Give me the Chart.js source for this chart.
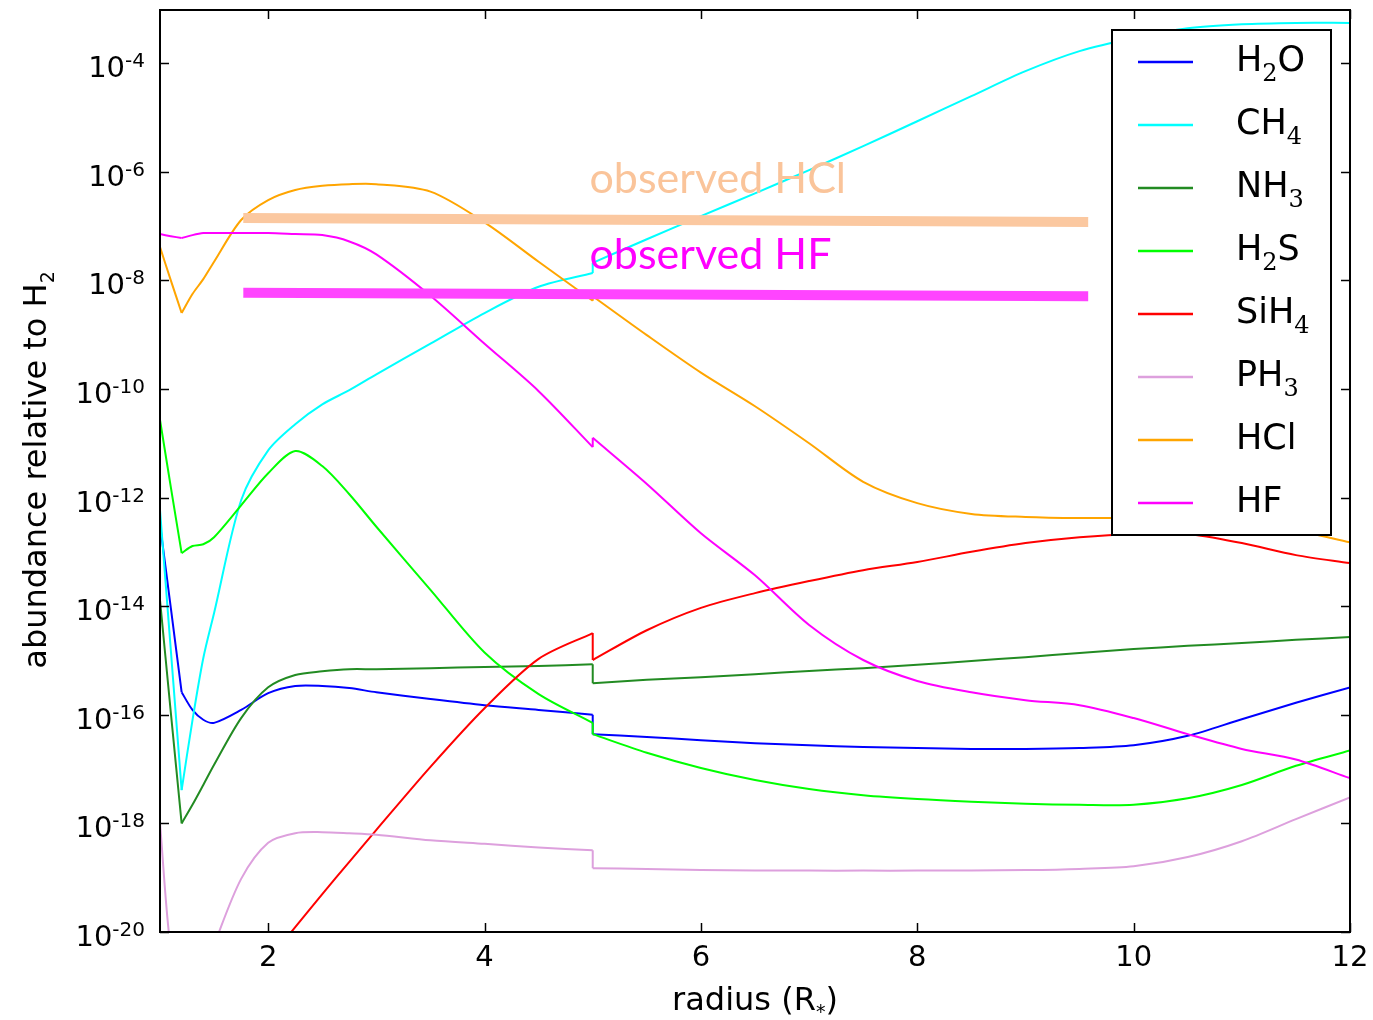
<!DOCTYPE html>
<html>
<head>
<meta charset="utf-8">
<script src="https://cdn.jsdelivr.net/npm/chart.js@4.4.1/dist/chart.umd.min.js"></script>
<style>
html,body{margin:0;padding:0;background:#fff;}
#wrap{width:1373px;height:1020px;position:relative;}
</style>
</head>
<body>
<div id="wrap"><canvas id="c" width="1373" height="1020"></canvas></div>
<script>
// ---------------- data ----------------
const radius = [1.0, 1.1, 1.2, 1.3, 1.4, 1.5, 1.75, 2.0, 2.25, 2.5, 2.75, 3.0, 3.5, 4.0, 4.5, 5.0, 5.0, 5.5, 6.0, 6.5, 7.0, 7.5, 8.0, 8.5, 9.0, 9.5, 10.0, 10.5, 11.0, 11.5, 12.0];

const h2o  = [3.2e-13, 9.3e-15, 2.6e-16, 1.23e-16, 8.1e-17, 7.1e-17, 1.23e-16, 2.5e-16, 3.4e-16, 3.4e-16, 3.1e-16, 2.6e-16, 1.95e-16, 1.5e-16, 1.23e-16, 1.0e-16, 4.4e-17, 3.9e-17, 3.4e-17, 3.0e-17, 2.75e-17, 2.55e-17, 2.45e-17, 2.35e-17, 2.35e-17, 2.45e-17, 2.75e-17, 4.1e-17, 8.3e-17, 1.66e-16, 3.2e-16];
const ch4  = [5.9e-13, 1.55e-15, 4.1e-18, 7.9e-17, 1.1e-15, 7.5e-15, 8.9e-13, 7.4e-12, 2.24e-11, 5.2e-11, 9.5e-11, 1.86e-10, 6.8e-10, 2.5e-9, 7.6e-9, 1.36e-8, 2.1e-8, 5.7e-8, 1.52e-7, 4.0e-7, 1.07e-6, 2.95e-6, 8.5e-6, 2.46e-5, 7.1e-5, 1.66e-4, 2.9e-4, 4.4e-4, 5.2e-4, 5.5e-4, 5.5e-4];
const nh3  = [1.3e-14, 1.1e-16, 1.0e-18, 2.2e-18, 5.1e-18, 1.2e-17, 8.7e-17, 3.2e-16, 5.4e-16, 6.3e-16, 6.9e-16, 6.9e-16, 7.2e-16, 7.6e-16, 7.9e-16, 8.5e-16, 3.8e-16, 4.4e-16, 4.9e-16, 5.6e-16, 6.4e-16, 7.2e-16, 8.3e-16, 9.8e-16, 1.15e-15, 1.37e-15, 1.62e-15, 1.86e-15, 2.1e-15, 2.4e-15, 2.7e-15];
const h2s  = [2.7e-11, 1.55e-12, 9.5e-14, 1.28e-13, 1.38e-13, 1.86e-13, 7.2e-13, 2.8e-12, 7.2e-12, 3.8e-12, 1.15e-12, 2.9e-13, 2.0e-14, 1.4e-15, 2.4e-16, 7.1e-17, 4.4e-17, 2.0e-17, 1.05e-17, 6.3e-18, 4.3e-18, 3.3e-18, 2.8e-18, 2.5e-18, 2.3e-18, 2.2e-18, 2.2e-18, 2.9e-18, 5.1e-18, 1.15e-17, 2.2e-17];
const sih4 = [null, null, null, null, null, null, null, 3.0e-21, 1.23e-20, 5.0e-20, 1.95e-19, 7.6e-19, 1.1e-17, 1.32e-16, 1.07e-15, 3.2e-15, 1.02e-15, 3.6e-15, 9.3e-15, 1.74e-14, 2.9e-14, 4.6e-14, 6.5e-14, 1.0e-13, 1.45e-13, 1.86e-13, 2.14e-13, 2.14e-13, 1.45e-13, 8.7e-14, 6.2e-14];
const ph3  = [1.0e-18, 4.7e-21, 1.0e-21, 1.2e-21, 1.7e-21, 5.8e-21, 9.5e-20, 4.4e-19, 6.6e-19, 6.9e-19, 6.6e-19, 6.2e-19, 4.9e-19, 4.2e-19, 3.6e-19, 3.2e-19, 1.5e-19, 1.45e-19, 1.38e-19, 1.36e-19, 1.35e-19, 1.35e-19, 1.35e-19, 1.36e-19, 1.38e-19, 1.45e-19, 1.62e-19, 2.4e-19, 4.7e-19, 1.2e-18, 3.0e-18];
const hcl  = [4.1e-8, 1.0e-8, 2.5e-9, 5.6e-9, 1.05e-8, 2.2e-8, 1.29e-7, 3.0e-7, 4.6e-7, 5.5e-7, 5.9e-7, 5.9e-7, 4.3e-7, 1.17e-7, 2.2e-8, 4.2e-9, 5.1e-9, 9.8e-10, 2.0e-10, 4.8e-11, 1.0e-11, 1.95e-12, 7.9e-13, 5.0e-13, 4.4e-13, 4.2e-13, 4.2e-13, 4.1e-13, 3.7e-13, 2.5e-13, 1.5e-13];
const hf   = [7.1e-8, 6.5e-8, 6.0e-8, 6.8e-8, 7.4e-8, 7.4e-8, 7.4e-8, 7.4e-8, 7.1e-8, 6.8e-8, 5.2e-8, 3.0e-8, 5.2e-9, 6.8e-10, 9.1e-11, 8.5e-12, 1.26e-11, 1.78e-12, 2.2e-13, 3.7e-14, 4.5e-15, 1.02e-15, 4.2e-16, 2.6e-16, 1.86e-16, 1.5e-16, 8.7e-17, 4.4e-17, 2.35e-17, 1.5e-17, 6.8e-18];

const obsRadius = [1.77, 9.58];
const obsHCl    = [1.40e-7, 1.18e-7];
const obsHF     = [5.9e-9, 5.1e-9];

const seriesNames = ['H2O', 'CH4', 'NH3', 'H2S', 'SiH4', 'PH3', 'HCl', 'HF'];
const seriesData  = [h2o, ch4, nh3, h2s, sih4, ph3, hcl, hf];
const xTicks = [2, 4, 6, 8, 10, 12];
const yTicks = [1e-20, 1e-18, 1e-16, 1e-14, 1e-12, 1e-10, 1e-8, 1e-6, 1e-4];
const xTitle = 'radius (R*)';
const yTitle = 'abundance relative to H2';

// indices where the model curves have a kink (x=1.2) and a step (x=5)
const pieces = [[0, 2, false], [2, 15, false], [15, 16, true], [16, 30, false]];

// ---------------- styles ----------------
const seriesColors = ['#0000ff', '#00ffff', '#228b22', '#00ff00', '#ff0000', '#dda0dd', '#ffa500', '#ff00ff'];
const obsLabels = [
  {text: 'observed HCl', x: 4.97, y: 4.0e-7, color: '#fac49a'},
  {text: 'observed HF',  x: 4.97, y: 1.62e-8, color: '#ff00ff'}
];

function splitSub(name) {
  const out = []; let cur = '', curSub = false;
  for (const ch of name) {
    const sub = /[0-9*]/.test(ch);
    if (cur && sub !== curSub) { out.push([cur, curSub]); cur = ''; }
    cur += ch; curSub = sub;
  }
  if (cur) out.push([cur, curSub]);
  return out;
}

const datasets = [];
seriesNames.forEach((n, i) => {
  pieces.forEach(([s, e, jump]) => {
    const pts = [];
    for (let k = s; k <= e; k++) {
      if (seriesData[i][k] !== null) pts.push({x: radius[k], y: seriesData[i][k]});
    }
    if (pts.length < 2) return;
    datasets.push({
      label: n,
      data: pts,
      borderColor: seriesColors[i],
      backgroundColor: seriesColors[i],
      borderWidth: 2,
      pointRadius: 0,
      tension: jump ? 0 : 0.3,
      fill: false,
      order: seriesNames.length - i
    });
  });
});
datasets.push({
  label: 'observed HCl',
  data: obsRadius.map((r, k) => ({x: r, y: obsHCl[k]})),
  borderColor: '#fbc8a0', borderWidth: 10, pointRadius: 0, borderCapStyle: 'butt', fill: false, order: 0
});
datasets.push({
  label: 'observed HF',
  data: obsRadius.map((r, k) => ({x: r, y: obsHF[k]})),
  borderColor: '#ff44ff', borderWidth: 10, pointRadius: 0, borderCapStyle: 'butt', fill: false, order: 0
});

function line(ctx, x1, y1, x2, y2) { ctx.beginPath(); ctx.moveTo(x1, y1); ctx.lineTo(x2, y2); ctx.stroke(); }

function drawRich(ctx, x, y, name, mainFont, subFont, subDy) {
  let cx = x;
  for (const [t, sub] of splitSub(name)) {
    ctx.font = sub ? subFont : mainFont;
    ctx.fillText(t, cx, y + (sub ? subDy : 0));
    cx += ctx.measureText(t).width;
  }
  return cx - x;
}
function richWidth(ctx, name, mainFont, subFont) {
  let w = 0;
  for (const [t, sub] of splitSub(name)) { ctx.font = sub ? subFont : mainFont; w += ctx.measureText(t).width; }
  return w;
}

const decor = {
  id: 'decor',
  afterDatasetsDraw(chart) {
    const {ctx, chartArea: a, scales: {x, y}} = chart;
    ctx.save();
    // observed labels
    ctx.textBaseline = 'alphabetic';
    ctx.textAlign = 'left';
    obsLabels.forEach(l => {
      ctx.font = '43px Lato';
      ctx.fillStyle = l.color;
      ctx.fillText(l.text, x.getPixelForValue(l.x), y.getPixelForValue(l.y));
    });
    // frame
    ctx.strokeStyle = '#000';
    ctx.lineWidth = 2;
    ctx.strokeRect(a.left, a.top, a.right - a.left, a.bottom - a.top);
    // inward ticks
    ctx.lineWidth = 1.5;
    xTicks.forEach(v => {
      const px = Math.round(x.getPixelForValue(v)) + 0.5;
      line(ctx, px, a.bottom, px, a.bottom - 9);
      line(ctx, px, a.top, px, a.top + 9);
    });
    yTicks.forEach(v => {
      const py = Math.round(y.getPixelForValue(v)) + 0.5;
      line(ctx, a.left, py, a.left + 9, py);
      line(ctx, a.right, py, a.right - 9, py);
    });
    // y tick labels 10^n
    ctx.fillStyle = '#000';
    ctx.textAlign = 'left';
    yTicks.forEach(v => {
      const py = y.getPixelForValue(v);
      const sup = String(Math.round(Math.log10(v)));
      ctx.font = '20px "DejaVu Sans"';
      const ws = ctx.measureText(sup).width;
      ctx.font = '29px "DejaVu Sans"';
      const wb = ctx.measureText('10').width;
      const right = a.left - 15;
      ctx.fillText('10', right - ws - wb, py + 14);
      ctx.font = '20px "DejaVu Sans"';
      ctx.fillText(sup, right - ws, py + 4);
    });
    // x title
    const mf = '32px "DejaVu Sans"', sf = '19px "DejaVu Sans"';
    const xw = richWidth(ctx, xTitle, mf, sf);
    drawRich(ctx, (a.left + a.right) / 2 - xw / 2, 1010, xTitle, mf, sf, 8);
    // y title
    const yw = richWidth(ctx, yTitle, mf, sf);
    ctx.save();
    ctx.translate(46, 470);
    ctx.rotate(-Math.PI / 2);
    drawRich(ctx, -yw / 2, 0, yTitle, mf, sf, 8);
    ctx.restore();
    // legend
    const bx = a.right - 238, by = a.top + 20, bw = 219, bh = 505;
    ctx.fillStyle = '#fff';
    ctx.fillRect(bx, by, bw, bh);
    ctx.strokeStyle = '#000';
    ctx.lineWidth = 2;
    ctx.strokeRect(bx, by, bw, bh);
    ctx.textBaseline = 'middle';
    seriesNames.forEach((n, i) => {
      const ry = by + 32 + i * 63;
      ctx.strokeStyle = seriesColors[i];
      ctx.lineWidth = 2.5;
      line(ctx, bx + 26, ry, bx + 81, ry);
      ctx.fillStyle = '#000';
      drawRich(ctx, bx + 124, ry, n, '35px "DejaVu Sans"', '24px "DejaVu Serif"', 13);
    });
    ctx.restore();
  }
};

new Chart(document.getElementById('c'), {
  type: 'line',
  data: {datasets},
  plugins: [decor],
  options: {
    responsive: false,
    animation: false,
    devicePixelRatio: 1,
    layout: {padding: {top: 10, right: 23, left: 0, bottom: 0}},
    plugins: {legend: {display: false}, tooltip: {enabled: false}},
    scales: {
      x: {
        type: 'linear', min: 1, max: 12,
        afterFit(s) { s.height = 88; s.paddingLeft = 0; s.paddingRight = 0; },
        afterBuildTicks(s) { s.ticks = xTicks.map(v => ({value: v})); },
        grid: {display: false, drawTicks: false},
        border: {display: false},
        ticks: {font: {family: 'DejaVu Sans', size: 29}, color: '#000', padding: 9, maxRotation: 0, autoSkip: false}
      },
      y: {
        type: 'logarithmic', min: 1e-20, max: 9.5e-4,
        afterFit(s) { s.width = 160; s.paddingTop = 0; s.paddingBottom = 0; },
        afterBuildTicks(s) { s.ticks = yTicks.map(v => ({value: v})); },
        grid: {display: false, drawTicks: false},
        border: {display: false},
        ticks: {display: false}
      }
    }
  }
});
</script>
</body>
</html>
